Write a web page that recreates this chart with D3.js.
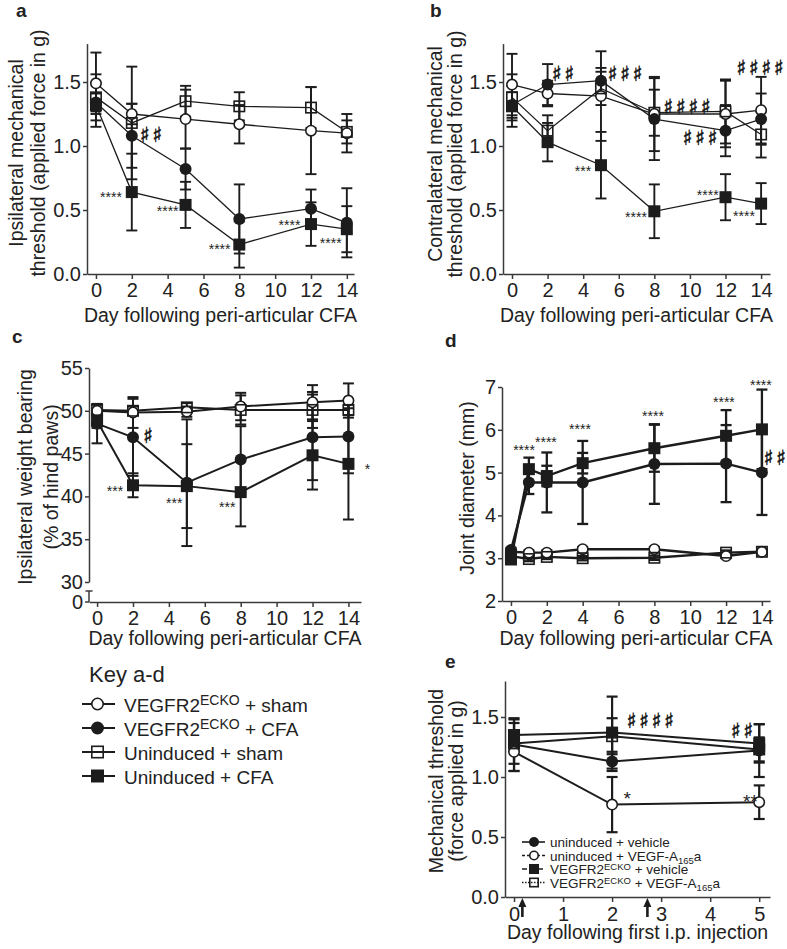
<!DOCTYPE html>
<html><head><meta charset="utf-8">
<script src="https://cdn.jsdelivr.net/npm/d3@7"></script>
<style>
body{margin:0;background:#fff}
</style>
</head><body>
<svg id="chart" width="787" height="949"></svg>
<script>
// ---------------- DATA ----------------
// series order: VEGFR2ECKO+sham (open circle), VEGFR2ECKO+CFA (filled circle),
//               Uninduced+sham (open square), Uninduced+CFA (filled square)
// ^x^ marks superscript, _x_ marks subscript
const keyLabels = ["VEGFR2^ECKO^ + sham", "VEGFR2^ECKO^ + CFA", "Uninduced + sham", "Uninduced + CFA"];
const keyMarkers = ["circleOpen", "circleFilled", "squareOpen", "squareFilled"];

const daysABC = [0, 2, 5, 8, 12, 14];
const xTicksAD = [0, 2, 4, 6, 8, 10, 12, 14];

// Panel a: ipsilateral mechanical threshold (g)
const aEckoSham = [1.49, 1.25, 1.21, 1.17, 1.12, 1.10];
const aEckoShamErr = [0.24, 0.08, 0.23, 0.15, 0.34, 0.15];
const aEckoCfa = [1.34, 1.08, 0.82, 0.43, 0.51, 0.40];
const aEckoCfaErr = [0.07, 0.25, 0.16, 0.27, 0.15, 0.27];
const aUnindSham = [1.38, 1.18, 1.35, 1.31, 1.30, 1.11];
const aUnindShamErr = [0.18, 0.44, 0.12, 0.11, 0.16, 0.09];
const aUnindCfa = [1.32, 0.64, 0.54, 0.23, 0.39, 0.35];
const aUnindCfaErr = [0.17, 0.30, 0.18, 0.18, 0.17, 0.18];
const aTicksY = [0, 0.5, 1.0, 1.5];
const aNotes = [["##", 3.07, 1.09], ["****", 0.84, 0.625], ["****", 4.0, 0.52], ["****", 6.9, 0.22], ["****", 10.8, 0.41], ["****", 13.1, 0.27]];

// Panel b: contralateral mechanical threshold (g)
const bEckoSham = [1.48, 1.41, 1.39, 1.25, 1.25, 1.28];
const bEckoShamErr = [0.24, 0.10, 0.35, 0.29, 0.26, 0.26];
const bEckoCfa = [1.32, 1.48, 1.51, 1.21, 1.12, 1.21];
const bEckoCfaErr = [0.10, 0.16, 0.10, 0.32, 0.20, 0.20];
const bUnindSham = [1.38, 1.12, 1.45, 1.26, 1.27, 1.09];
const bUnindShamErr = [0.18, 0.12, 0.13, 0.18, 0.25, 0.18];
const bUnindCfa = [1.31, 1.03, 0.85, 0.49, 0.60, 0.55];
const bUnindCfaErr = [0.16, 0.15, 0.26, 0.21, 0.18, 0.16];
const bNotes = [["##", 2.87, 1.57], ["###", 6.35, 1.57], ["####", 9.84, 1.31], ["###", 10.57, 1.07], ["####", 13.94, 1.62],
                ["***", 3.99, 0.83], ["****", 6.97, 0.47], ["****", 11.0, 0.64], ["****", 13.04, 0.48]];

// Panel c: ipsilateral weight bearing (% of hind paws)
const cEckoSham = [50.0, 49.8, 49.9, 50.5, 51.0, 51.2];
const cEckoShamErr = [0.8, 1.8, 0.6, 1.6, 2.0, 2.0];
const cEckoCfa = [48.5, 46.9, 41.6, 44.3, 46.9, 47.0];
const cEckoCfaErr = [2.3, 4.5, 7.4, 3.9, 5.0, 4.3];
const cUnindSham = [50.1, 50.0, 50.4, 50.1, 50.1, 50.1];
const cUnindShamErr = [0.6, 0.5, 0.5, 1.7, 2.1, 0.6];
const cUnindCfa = [48.8, 41.3, 41.2, 40.5, 44.8, 43.8];
const cUnindCfaErr = [0.8, 1.4, 4.9, 4.0, 4.0, 6.5];
const cTicksY = [30, 35, 40, 45, 50, 55];
const cNotes = [["#", 2.84, 47.2], ["***", 1.0, 41.0], ["***", 4.3, 39.6], ["***", 7.25, 39.1], ["*", 15.06, 43.6]];

// Panel d: joint diameter (mm)
const daysD = [0, 1, 2, 4, 8, 12, 14];
const dEckoSham = [3.15, 3.13, 3.13, 3.21, 3.21, 3.05, 3.15];
const dEckoShamErr = [0.05, 0.05, 0.05, 0.05, 0.05, 0.05, 0.05];
const dEckoCfa = [3.19, 4.77, 4.77, 4.77, 5.20, 5.21, 5.00];
const dEckoCfaErr = [0.05, 0.27, 0.70, 0.97, 0.93, 0.90, 0.99];
const dUnindSham = [3.05, 2.98, 3.03, 3.00, 3.01, 3.13, 3.15];
const dUnindShamErr = [0.05, 0.05, 0.05, 0.05, 0.05, 0.05, 0.05];
const dUnindCfa = [2.97, 5.08, 4.92, 5.22, 5.57, 5.86, 6.01];
const dUnindCfaErr = [0.05, 0.27, 0.24, 0.24, 0.55, 0.60, 0.93];
const dTicksY = [2, 3, 4, 5, 6, 7];
const dNotes = [["****", 0.73, 5.60], ["****", 1.95, 5.79], ["****", 3.85, 6.09], ["****", 7.92, 6.39], ["****", 11.88, 6.72], ["****", 13.94, 7.12], ["##", 14.72, 5.36]];

// Panel e: mechanical threshold after i.p. injection (g)
const daysE = [0, 2, 5];
const xTicksE = [0, 1, 2, 3, 4, 5];
const eLabels = ["uninduced + vehicle", "uninduced + VEGF-A_165_a", "VEGFR2^ECKO^ + vehicle", "VEGFR2^ECKO^ + VEGF-A_165_a"];
const eMarkers = ["circleFilled", "circleOpen", "squareFilled", "squareOpen"];
const eDash = [null, "3,2", "5,3", "1.5,1.5"];
const eUnindVeh = [1.27, 1.13, 1.22];
const eUnindVehErr = [0.22, 0.08, 0.22];
const eUnindVegf = [1.21, 0.77, 0.79];
const eUnindVegfErr = [0.16, 0.23, 0.14];
const eEckoVeh = [1.35, 1.37, 1.28];
const eEckoVehErr = [0.13, 0.30, 0.16];
const eEckoVegf = [1.28, 1.34, 1.23];
const eEckoVegfErr = [0.17, 0.15, 0.10];
const eArrowDays = [0.17, 2.72];
const eNotes = [["####", 2.78, 1.475], ["##", 4.65, 1.39], ["*", 2.31, 0.86], ["**", 4.82, 0.83]];

// ---------------- DRAWING ----------------
const svg = d3.select("#chart");
const INK = "#1c1c1c";
const AX = "#3a3a3a";
const TXT = "#222";
const FONT = '"Liberation Sans", Arial, sans-serif';
const SHARP_FONT = '"DejaVu Sans", "DejaVu Serif", sans-serif';

function T(g) { return g.append("text").style("font-family", FONT).attr("fill", TXT); }

function marker(g, type, cx, cy, size) {
  const s = size || 12;
  const filled = type.endsWith("Filled");
  let el;
  if (type.startsWith("circle")) {
    el = g.append("circle").attr("cx", cx).attr("cy", cy).attr("r", filled ? s / 2 : s / 2 - 0.8);
  } else {
    const w = filled ? s : s - 1.6;
    el = g.append("rect").attr("x", cx - w / 2).attr("y", cy - w / 2).attr("width", w).attr("height", w);
  }
  if (filled) el.attr("fill", INK).attr("stroke", "none");
  else el.attr("fill", type.startsWith("circle") ? "#fff" : "none").attr("stroke", INK).attr("stroke-width", 1.6);
}

function styleAxis(g) {
  g.attr("font-family", FONT).attr("font-size", 20);
  g.selectAll("path,line").attr("stroke", AX).attr("stroke-width", 1.5);
  g.selectAll("text").attr("fill", TXT);
}

function richText(sel, str, baseSize, smallSize, supShift, subShift) {
  const parts = str.split(/(\^[^^]*\^|_[^_]*_)/).filter(s => s.length);
  let cur = 0;
  parts.forEach(p => {
    let target = 0, txt = p, size = baseSize;
    if (p[0] === "^") { target = -supShift; txt = p.slice(1, -1); size = smallSize; }
    else if (p[0] === "_") { target = subShift; txt = p.slice(1, -1); size = smallSize; }
    sel.append("tspan").attr("font-size", size).attr("dy", target - cur).text(txt);
    cur = target;
  });
}

function notes(g, list, x, y, starSize) {
  list.forEach(([t, d, v]) => {
    const px = x(d), py = y(v);
    if (t.startsWith("#")) {
      const n = t.length, pitch = 12.5;
      for (let i = 0; i < n; i++) {
        g.append("text").attr("x", px + (i - (n - 1) / 2) * pitch).attr("y", py + 8)
          .attr("text-anchor", "middle").style("font-family", SHARP_FONT).style("font-weight", "bold")
          .attr("fill", "#1a1a1a").attr("stroke", "#1a1a1a").attr("stroke-width", 0.5)
          .attr("font-size", 21).text("\u266F\uFE0E");
      }
    } else {
      T(g).attr("x", px).attr("y", py + starSize * 0.58).attr("text-anchor", "middle")
        .attr("font-size", starSize).text(t);
    }
  });
}

function drawPanel(p) {
  const g = svg.append("g");
  const x = p.x, y = p.y;
  g.append("g").attr("transform", `translate(0,${p.xAxisY})`)
    .call(d3.axisBottom(x).tickValues(p.xTicks).tickSize(5).tickPadding(p.xPad).tickSizeOuter(0).tickFormat(d3.format("d")))
    .call(styleAxis);
  g.append("g").attr("transform", `translate(${x.range()[0]},0)`)
    .call(d3.axisLeft(y).tickValues(p.yTicks).tickSize(4).tickPadding(2).tickSizeOuter(0).tickFormat(p.yFmt))
    .call(styleAxis);
  const line = d3.line().x(d => x(d[0])).y(d => y(d[1]));
  p.series.forEach(s => {
    g.append("path").datum(s.days.map((d, i) => [d, s.vals[i]]))
      .attr("d", line).attr("fill", "none").attr("stroke", INK).attr("stroke-width", p.lineW);
  });
  p.series.forEach(s => {
    s.days.forEach((d, i) => {
      const cx = x(d), y1 = y(s.vals[i] + s.errs[i]), y2 = y(s.vals[i] - s.errs[i]);
      g.append("line").attr("x1", cx).attr("x2", cx).attr("y1", y1).attr("y2", y2).attr("stroke", INK).attr("stroke-width", p.errW);
      [y1, y2].forEach(yy => g.append("line").attr("x1", cx - 5.5).attr("x2", cx + 5.5).attr("y1", yy).attr("y2", yy)
        .attr("stroke", INK).attr("stroke-width", p.errW));
    });
  });
  p.series.forEach(s => {
    s.days.forEach((d, i) => marker(g, s.marker, x(d), y(s.vals[i]), 12));
  });
  notes(g, p.notes, x, y, p.starSize || 14);
  const tx = (x.range()[0] + x.range()[1]) / 2;
  T(g).attr("x", tx).attr("y", p.xTitleY).attr("text-anchor", "middle").attr("font-size", 19.5).text(p.xTitle);
  p.yTitle.forEach((t, i) => {
    T(g).attr("transform", `translate(${p.yTitleX[i]},${p.yTitleCY}) rotate(-90)`)
      .attr("text-anchor", "middle").attr("font-size", 19.5).text(t);
  });
  T(g).attr("x", p.label[1]).attr("y", p.label[2]).attr("font-size", 19).attr("font-weight", "bold").text(p.label[0]);
  return g;
}

const mk = (days, sets) => sets.map((s, i) => ({ days, vals: s[0], errs: s[1], marker: keyMarkers[i] }));
const xTitleCFA = "Day following peri-articular CFA";

// Panel a
drawPanel({
  x: d3.scaleLinear().domain([-0.5, 14.4]).range([87, 354]),
  y: d3.scaleLinear().domain([0, 1.8]).range([274, 43.6]),
  xAxisY: 274, xTicks: xTicksAD, yTicks: aTicksY, yFmt: d3.format(".1f"), xPad: 4,
  series: mk(daysABC, [[aEckoSham, aEckoShamErr], [aEckoCfa, aEckoCfaErr], [aUnindSham, aUnindShamErr], [aUnindCfa, aUnindCfaErr]]),
  lineW: 1.3, errW: 1.9, notes: aNotes,
  xTitle: xTitleCFA, xTitleY: 322,
  yTitle: ["Ipsilateral mechanical", "threshold (applied force in g)"], yTitleX: [23, 45], yTitleCY: 153,
  label: ["a", 16, 17]
});

// Panel b
drawPanel({
  x: d3.scaleLinear().domain([-0.506, 14.5]).range([503, 770]),
  y: d3.scaleLinear().domain([0, 1.8]).range([274, 43.6]),
  xAxisY: 274, xTicks: xTicksAD, yTicks: aTicksY, yFmt: d3.format(".1f"), xPad: 4,
  series: mk(daysABC, [[bEckoSham, bEckoShamErr], [bEckoCfa, bEckoCfaErr], [bUnindSham, bUnindShamErr], [bUnindCfa, bUnindCfaErr]]),
  lineW: 1.3, errW: 1.9, notes: bNotes,
  xTitle: xTitleCFA, xTitleY: 322,
  yTitle: ["Contralateral mechanical", "threshold (applied force in g)"], yTitleX: [442, 462], yTitleCY: 154,
  label: ["b", 430, 17]
});

// Panel c (broken y axis)
const gc = drawPanel({
  x: d3.scaleLinear().domain([-0.45, 14.7]).range([89, 361]),
  y: d3.scaleLinear().domain([30, 55]).range([582, 368]),
  xAxisY: 602, xTicks: xTicksAD, yTicks: cTicksY, yFmt: d3.format("d"), xPad: 4,
  series: mk(daysABC, [[cEckoSham, cEckoShamErr], [cEckoCfa, cEckoCfaErr], [cUnindSham, cUnindShamErr], [cUnindCfa, cUnindCfaErr]]),
  lineW: 2, errW: 2, notes: cNotes,
  xTitle: xTitleCFA, xTitleY: 645,
  yTitle: ["Ipsilateral weight bearing", "(% of hind paws)"], yTitleX: [32, 58], yTitleCY: 477,
  label: ["c", 12, 343]
});
gc.append("line").attr("x1", 89).attr("x2", 89).attr("y1", 591).attr("y2", 602).attr("stroke", AX).attr("stroke-width", 1.5);
gc.append("line").attr("x1", 85.5).attr("x2", 92.5).attr("y1", 591).attr("y2", 591).attr("stroke", AX).attr("stroke-width", 1.5);
gc.append("line").attr("x1", 85).attr("x2", 89).attr("y1", 602).attr("y2", 602).attr("stroke", AX).attr("stroke-width", 1.5);
T(gc).attr("x", 83).attr("y", 609).attr("text-anchor", "end").attr("font-size", 20).text("0");

// Panel d
drawPanel({
  x: d3.scaleLinear().domain([-0.5, 14.45]).range([502, 770]),
  y: d3.scaleLinear().domain([2, 7]).range([601, 387]),
  xAxisY: 601, xTicks: xTicksAD, yTicks: dTicksY, yFmt: d3.format("d"), xPad: 4,
  series: mk(daysD, [[dEckoSham, dEckoShamErr], [dEckoCfa, dEckoCfaErr], [dUnindSham, dUnindShamErr], [dUnindCfa, dUnindCfaErr]]),
  lineW: 2.4, errW: 2.3, notes: dNotes,
  xTitle: xTitleCFA, xTitleY: 645,
  yTitle: ["Joint diameter (mm)"], yTitleX: [474], yTitleCY: 488,
  label: ["d", 445, 347]
});

// Panel e
const xE = d3.scaleLinear().domain([-0.184, 5.22]).range([505, 770]);
const yE = d3.scaleLinear().domain([0, 1.8]).range([897, 681]);
const ge = drawPanel({
  x: xE, y: yE,
  xAxisY: 897, xTicks: xTicksE, yTicks: aTicksY, yFmt: d3.format(".1f"), xPad: 5,
  series: [[eUnindVeh, eUnindVehErr], [eUnindVegf, eUnindVegfErr], [eEckoVeh, eEckoVehErr], [eEckoVegf, eEckoVegfErr]]
    .map((s, i) => ({ days: daysE, vals: s[0], errs: s[1], marker: eMarkers[i] })),
  lineW: 2, errW: 2.2, notes: [], starSize: 19,
  xTitle: "Day following first i.p. injection", xTitleY: 939,
  yTitle: ["Mechanical threshold", "(force applied in g)"], yTitleX: [443, 463], yTitleCY: 781,
  label: ["e", 445, 668]
});
notes(ge, eNotes, xE, yE, 19);
eArrowDays.forEach(d => {
  const ax = xE(d);
  ge.append("line").attr("x1", ax).attr("x2", ax).attr("y1", 905).attr("y2", 917).attr("stroke", INK).attr("stroke-width", 2.6);
  ge.append("path").attr("d", `M${ax},898 L${ax - 4},907 L${ax + 4},907 Z`).attr("fill", INK);
});
// legend e
eLabels.forEach((lab, i) => {
  const cy = 842 + i * 13.5;
  const l = ge.append("line").attr("x1", 522).attr("x2", 545).attr("y1", cy).attr("y2", cy).attr("stroke", INK).attr("stroke-width", 1.6);
  if (eDash[i]) l.attr("stroke-dasharray", eDash[i]);
  marker(ge, eMarkers[i], 534, cy, 10);
  const t = T(ge).attr("x", 550).attr("y", cy + 5).attr("font-size", 13.5);
  richText(t, lab, 13.5, 9.5, 4, 3);
});

// Key a-d
const gk = svg.append("g");
T(gk).attr("x", 89).attr("y", 682).attr("font-size", 22).text("Key a-d");
keyLabels.forEach((lab, i) => {
  const cy = 704 + i * 24;
  gk.append("line").attr("x1", 82).attr("x2", 115).attr("y1", cy).attr("y2", cy).attr("stroke", INK).attr("stroke-width", 2);
  marker(gk, keyMarkers[i], 97.5, cy, 13);
  const t = T(gk).attr("x", 124).attr("y", cy + 8).attr("font-size", 19);
  richText(t, lab, 19, 14, 7, 3);
});
</script>
</body></html>
